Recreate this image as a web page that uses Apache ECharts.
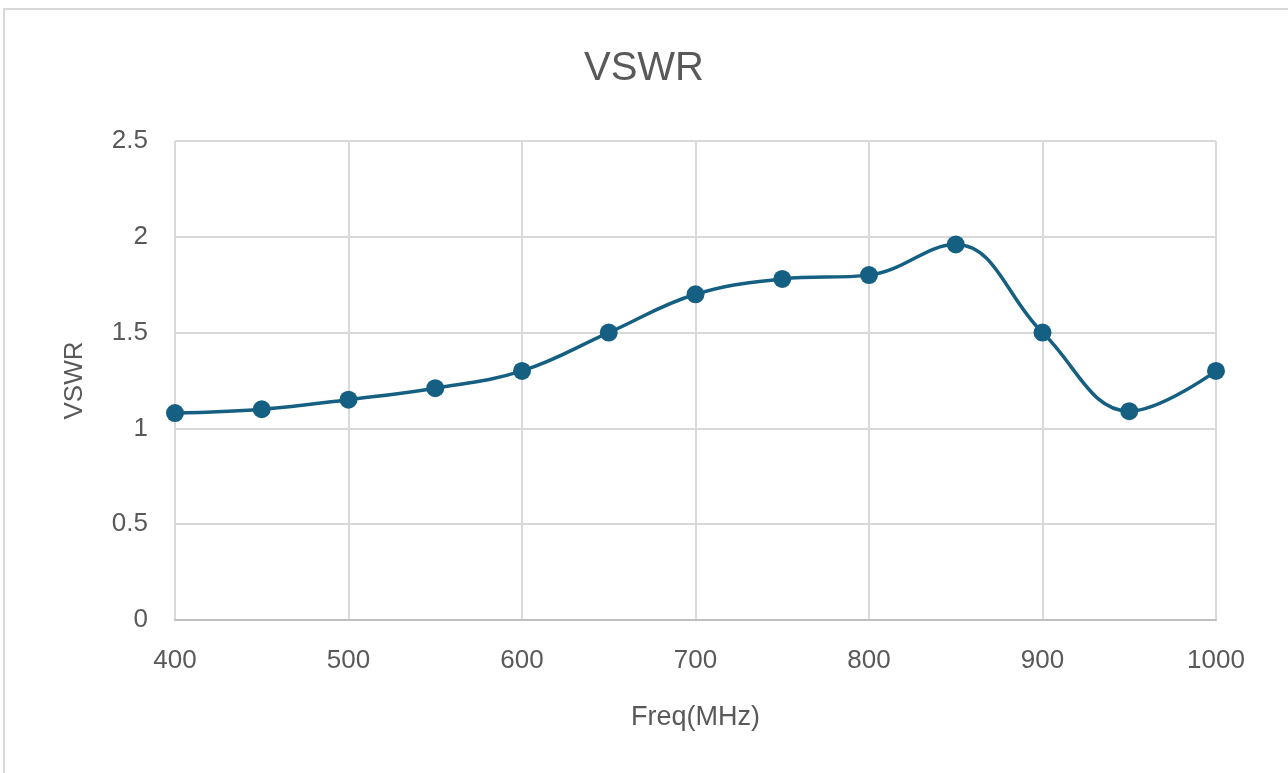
<!DOCTYPE html>
<html>
<head>
<meta charset="utf-8">
<script src="https://cdn.jsdelivr.net/npm/echarts@6/dist/echarts.min.js"></script>
<style>
  html, body { margin: 0; padding: 0; background: #fff; }
  #frame { position: absolute; left: 3px; top: 8px; width: 1290px; height: 780px; border: 2px solid #d9d9d9; box-sizing: border-box; }
  #main { position: absolute; left: 0; top: 0; width: 1288px; height: 773px; }
</style>
</head>
<body>
<div id="frame"></div>
<div id="main"></div>
<script>
// 频率 (MHz) 与 VSWR 读数
var freq = [400, 450, 500, 550, 600, 650, 700, 750, 800, 850, 900, 950, 1000];
var vswr = [1.08, 1.1, 1.15, 1.21, 1.3, 1.5, 1.7, 1.78, 1.8, 1.96, 1.5, 1.09, 1.3];

var points = [];
for (var i = 0; i < freq.length; i++) {
  points.push([freq[i], vswr[i]]);
}

var chart = echarts.init(document.getElementById('main'));
var textColor = '#595959';
var font = 'Liberation Sans, Arial, sans-serif';

var option = {
  animation: false,
  title: {
    text: 'VSWR',
    left: 'center',
    top: 44,
    textStyle: { fontFamily: font, fontSize: 40, fontWeight: 'normal', color: textColor }
  },
  grid: { left: 175, right: 72, top: 141, bottom: 153 },
  xAxis: {
    type: 'value',
    min: 400,
    max: 1000,
    interval: 100,
    name: 'Freq(MHz)',
    nameLocation: 'middle',
    nameGap: 84,
    nameTextStyle: { fontFamily: font, fontSize: 27, color: textColor },
    axisLine: { show: true, lineStyle: { color: '#bfbfbf', width: 2 } },
    axisTick: { show: false },
    axisLabel: {
      fontFamily: font, fontSize: 26, color: textColor, margin: 28,
      formatter: function (v) { return String(v); }
    },
    splitLine: { show: true, lineStyle: { color: '#d9d9d9', width: 2 } }
  },
  yAxis: {
    type: 'value',
    min: 0,
    max: 2.5,
    interval: 0.5,
    name: 'VSWR',
    nameLocation: 'middle',
    nameGap: 87,
    nameRotate: 90,
    nameTextStyle: { fontFamily: font, fontSize: 26, color: textColor },
    axisLine: { show: false },
    axisTick: { show: false },
    axisLabel: { fontFamily: font, fontSize: 26, color: textColor, margin: 27 },
    splitLine: { show: true, lineStyle: { color: '#d9d9d9', width: 2 } }
  },
  series: [
    {
      name: 'VSWR',
      type: 'line',
      data: points,
      smooth: 0.4,
      symbol: 'circle',
      symbolSize: 18,
      itemStyle: { color: '#156082' },
      lineStyle: { color: '#156082', width: 3.5 }
    }
  ]
};

chart.setOption(option);
</script>
</body>
</html>
